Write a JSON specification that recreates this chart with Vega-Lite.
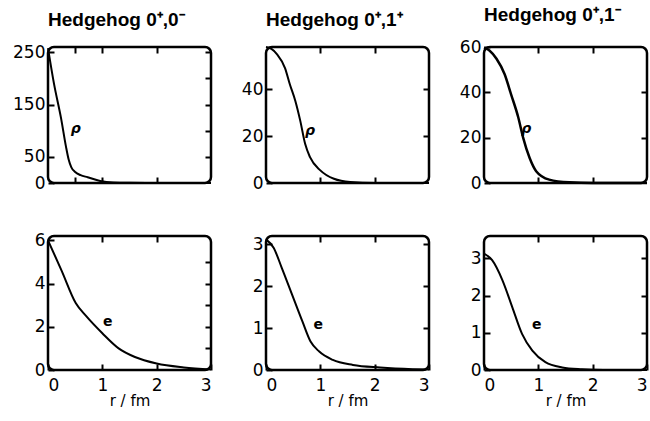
{
  "$schema": "https://vega.github.io/schema/vega-lite/v6.json",
  "padding": {"left": 11, "top": 4, "right": 5, "bottom": 5},
  "background": "white",
  "datasets": {
    "curves": [
      {"p": "a", "r": 0, "v": 258}, {"p": "a", "r": 0.11, "v": 190}, {"p": "a", "r": 0.24, "v": 124}, {"p": "a", "r": 0.33, "v": 70}, {"p": "a", "r": 0.38, "v": 45}, {"p": "a", "r": 0.43, "v": 30}, {"p": "a", "r": 0.5, "v": 21}, {"p": "a", "r": 0.6, "v": 15}, {"p": "a", "r": 0.73, "v": 11}, {"p": "a", "r": 0.96, "v": 4}, {"p": "a", "r": 1.2, "v": 1}, {"p": "a", "r": 1.5, "v": 0.3}, {"p": "a", "r": 2, "v": 0}, {"p": "a", "r": 3, "v": 0},
      {"p": "b", "r": 0, "v": 58}, {"p": "b", "r": 0.1, "v": 57.2}, {"p": "b", "r": 0.2, "v": 55}, {"p": "b", "r": 0.35, "v": 49}, {"p": "b", "r": 0.44, "v": 42}, {"p": "b", "r": 0.54, "v": 35}, {"p": "b", "r": 0.63, "v": 26.6}, {"p": "b", "r": 0.72, "v": 16.7}, {"p": "b", "r": 0.81, "v": 11}, {"p": "b", "r": 1.0, "v": 5.4}, {"p": "b", "r": 1.25, "v": 1.8}, {"p": "b", "r": 1.55, "v": 0.4}, {"p": "b", "r": 2, "v": 0}, {"p": "b", "r": 3, "v": 0},
      {"p": "c", "r": 0, "v": 59.7}, {"p": "c", "r": 0.1, "v": 58.5}, {"p": "c", "r": 0.23, "v": 54.8}, {"p": "c", "r": 0.38, "v": 48}, {"p": "c", "r": 0.5, "v": 39}, {"p": "c", "r": 0.63, "v": 29}, {"p": "c", "r": 0.72, "v": 20}, {"p": "c", "r": 0.84, "v": 11}, {"p": "c", "r": 0.96, "v": 5.2}, {"p": "c", "r": 1.2, "v": 1.5}, {"p": "c", "r": 1.57, "v": 0.3}, {"p": "c", "r": 2, "v": 0}, {"p": "c", "r": 3, "v": 0},
      {"p": "d", "r": 0, "v": 6.0}, {"p": "d", "r": 0.25, "v": 4.6}, {"p": "d", "r": 0.51, "v": 3.1}, {"p": "d", "r": 0.7, "v": 2.5}, {"p": "d", "r": 1.0, "v": 1.7}, {"p": "d", "r": 1.3, "v": 1.0}, {"p": "d", "r": 1.6, "v": 0.6}, {"p": "d", "r": 2.0, "v": 0.3}, {"p": "d", "r": 2.5, "v": 0.12}, {"p": "d", "r": 3, "v": 0.02},
      {"p": "e", "r": 0, "v": 3.12}, {"p": "e", "r": 0.14, "v": 2.92}, {"p": "e", "r": 0.29, "v": 2.44}, {"p": "e", "r": 0.48, "v": 1.8}, {"p": "e", "r": 0.67, "v": 1.16}, {"p": "e", "r": 0.82, "v": 0.68}, {"p": "e", "r": 0.98, "v": 0.44}, {"p": "e", "r": 1.23, "v": 0.24}, {"p": "e", "r": 1.6, "v": 0.12}, {"p": "e", "r": 2.1, "v": 0.06}, {"p": "e", "r": 2.7, "v": 0.02}, {"p": "e", "r": 3, "v": 0.01},
      {"p": "f", "r": 0, "v": 3.13}, {"p": "f", "r": 0.15, "v": 2.95}, {"p": "f", "r": 0.34, "v": 2.41}, {"p": "f", "r": 0.52, "v": 1.69}, {"p": "f", "r": 0.7, "v": 0.97}, {"p": "f", "r": 0.89, "v": 0.52}, {"p": "f", "r": 1.13, "v": 0.21}, {"p": "f", "r": 1.44, "v": 0.07}, {"p": "f", "r": 1.8, "v": 0.02}, {"p": "f", "r": 2.2, "v": 0}, {"p": "f", "r": 3, "v": 0}
    ],
    "labels": [
      {"p": "a", "r": 0.51, "v": 103, "t": "ρ"},
      {"p": "b", "r": 0.81, "v": 22, "t": "ρ"},
      {"p": "c", "r": 0.78, "v": 23.7, "t": "ρ"},
      {"p": "d", "r": 1.1, "v": 2.2, "t": "e"},
      {"p": "e", "r": 0.96, "v": 1.08, "t": "e"},
      {"p": "f", "r": 0.97, "v": 1.22, "t": "e"}
    ]
  },
  "config": {
    "view": {"stroke": "black", "strokeWidth": 2.5, "cornerRadius": 6},
    "font": "DejaVu Sans",
    "axis": {
      "domain": false, "grid": false, "tickColor": "black", "tickWidth": 2, "tickSize": -6,
      "labelColor": "black", "labelFont": "DejaVu Sans", "labelFontSize": 17, "labelPadding": 9,
      "titleColor": "black", "titleFont": "DejaVu Sans", "titleFontSize": 15, "titleFontWeight": "normal"
    },
    "title": {"font": "Liberation Sans", "fontSize": 19, "fontWeight": "bold", "color": "black", "anchor": "start", "frame": "group", "offset": 13},
    "concat": {"spacing": 55}
  },
  "columns": 3,
  "bounds": "flush",
  "spacing": {"column": 55, "row": 53},
  "concat": [
    {
      "width": 163, "height": 136, "title": "Hedgehog 0⁺,0⁻",
      "layer": [
        {"data": {"name": "curves"}, "transform": [{"filter": "datum.p === 'a'"}],
         "mark": {"type": "line", "color": "black", "strokeWidth": 2, "interpolate": "monotone"},
         "encoding": {
           "x": {"field": "r", "type": "quantitative", "scale": {"domain": [0, 3], "nice": false}, "axis": {"orient": "bottom", "labels": false, "title": null, "values": [0.5, 1, 2]}},
           "y": {"field": "v", "type": "quantitative", "scale": {"domain": [0, 260], "nice": false}, "axis": {"orient": "left", "title": null, "values": [0, 50, 150, 250]}}
         }},
        {"data": {"name": "labels"}, "transform": [{"filter": "datum.p === 'a'"}],
         "mark": {"type": "text", "fontSize": 14, "fontWeight": "bold", "fontStyle": "italic", "color": "black"},
         "encoding": {
           "x": {"field": "r", "type": "quantitative", "scale": {"domain": [0, 3], "nice": false}, "axis": {"orient": "top", "labels": false, "title": null, "values": [0.5, 1, 2]}},
           "y": {"field": "v", "type": "quantitative", "scale": {"domain": [0, 260], "nice": false}, "axis": {"orient": "right", "labels": false, "title": null, "values": [50, 100, 150, 200, 250]}},
           "text": {"field": "t"}
         }}
      ],
      "resolve": {"axis": {"x": "independent", "y": "independent"}}
    },
    {
      "width": 163, "height": 136, "title": "Hedgehog 0⁺,1⁺",
      "layer": [
        {"data": {"name": "curves"}, "transform": [{"filter": "datum.p === 'b'"}],
         "mark": {"type": "line", "color": "black", "strokeWidth": 2, "interpolate": "monotone"},
         "encoding": {
           "x": {"field": "r", "type": "quantitative", "scale": {"domain": [0, 3], "nice": false}, "axis": {"orient": "bottom", "labels": false, "title": null, "values": [1, 2]}},
           "y": {"field": "v", "type": "quantitative", "scale": {"domain": [0, 58], "nice": false}, "axis": {"orient": "left", "title": null, "values": [0, 20, 40]}}
         }},
        {"data": {"name": "labels"}, "transform": [{"filter": "datum.p === 'b'"}],
         "mark": {"type": "text", "fontSize": 14, "fontWeight": "bold", "fontStyle": "italic", "color": "black"},
         "encoding": {
           "x": {"field": "r", "type": "quantitative", "scale": {"domain": [0, 3], "nice": false}, "axis": {"orient": "top", "labels": false, "title": null, "values": [1, 2]}},
           "y": {"field": "v", "type": "quantitative", "scale": {"domain": [0, 58], "nice": false}, "axis": {"orient": "right", "labels": false, "title": null, "values": [20, 40]}},
           "text": {"field": "t"}
         }}
      ],
      "resolve": {"axis": {"x": "independent", "y": "independent"}}
    },
    {
      "width": 163, "height": 136, "title": "Hedgehog 0⁺,1⁻",
      "layer": [
        {"data": {"name": "curves"}, "transform": [{"filter": "datum.p === 'c'"}],
         "mark": {"type": "line", "color": "black", "strokeWidth": 2.5, "interpolate": "monotone"},
         "encoding": {
           "x": {"field": "r", "type": "quantitative", "scale": {"domain": [0, 3], "nice": false}, "axis": {"orient": "bottom", "labels": false, "title": null, "values": [1, 2]}},
           "y": {"field": "v", "type": "quantitative", "scale": {"domain": [0, 60], "nice": false}, "axis": {"orient": "left", "title": null, "values": [0, 20, 40, 60]}}
         }},
        {"data": {"name": "labels"}, "transform": [{"filter": "datum.p === 'c'"}],
         "mark": {"type": "text", "fontSize": 14, "fontWeight": "bold", "fontStyle": "italic", "color": "black"},
         "encoding": {
           "x": {"field": "r", "type": "quantitative", "scale": {"domain": [0, 3], "nice": false}, "axis": {"orient": "top", "labels": false, "title": null, "values": [1, 2]}},
           "y": {"field": "v", "type": "quantitative", "scale": {"domain": [0, 60], "nice": false}, "axis": {"orient": "right", "labels": false, "title": null, "values": [20, 40]}},
           "text": {"field": "t"}
         }}
      ],
      "resolve": {"axis": {"x": "independent", "y": "independent"}}
    },
    {
      "width": 163, "height": 134,
      "layer": [
        {"data": {"name": "curves"}, "transform": [{"filter": "datum.p === 'd'"}],
         "mark": {"type": "line", "color": "black", "strokeWidth": 2, "interpolate": "monotone"},
         "encoding": {
           "x": {"field": "r", "type": "quantitative", "scale": {"domain": [0, 3], "nice": false}, "axis": {"orient": "bottom", "title": "r / fm", "values": [0, 1, 2, 3], "labelPadding": 13, "titlePadding": 0}},
           "y": {"field": "v", "type": "quantitative", "scale": {"domain": [0, 6.2], "nice": false}, "axis": {"orient": "left", "title": null, "values": [0, 2, 4, 6]}}
         }},
        {"data": {"name": "labels"}, "transform": [{"filter": "datum.p === 'd'"}],
         "mark": {"type": "text", "fontSize": 14, "fontWeight": "bold", "color": "black"},
         "encoding": {
           "x": {"field": "r", "type": "quantitative", "scale": {"domain": [0, 3], "nice": false}, "axis": {"orient": "top", "labels": false, "title": null, "values": [1, 2]}},
           "y": {"field": "v", "type": "quantitative", "scale": {"domain": [0, 6.2], "nice": false}, "axis": {"orient": "right", "labels": false, "title": null, "values": [1, 2, 3, 4, 5]}},
           "text": {"field": "t"}
         }}
      ],
      "resolve": {"axis": {"x": "independent", "y": "independent"}}
    },
    {
      "width": 163, "height": 134,
      "layer": [
        {"data": {"name": "curves"}, "transform": [{"filter": "datum.p === 'e'"}],
         "mark": {"type": "line", "color": "black", "strokeWidth": 2, "interpolate": "monotone"},
         "encoding": {
           "x": {"field": "r", "type": "quantitative", "scale": {"domain": [0, 3], "nice": false}, "axis": {"orient": "bottom", "title": "r / fm", "values": [0, 1, 2, 3], "labelPadding": 13, "titlePadding": 0}},
           "y": {"field": "v", "type": "quantitative", "scale": {"domain": [0, 3.2], "nice": false}, "axis": {"orient": "left", "title": null, "values": [0, 1, 2, 3]}}
         }},
        {"data": {"name": "labels"}, "transform": [{"filter": "datum.p === 'e'"}],
         "mark": {"type": "text", "fontSize": 14, "fontWeight": "bold", "color": "black"},
         "encoding": {
           "x": {"field": "r", "type": "quantitative", "scale": {"domain": [0, 3], "nice": false}, "axis": {"orient": "top", "labels": false, "title": null, "values": [1, 2]}},
           "y": {"field": "v", "type": "quantitative", "scale": {"domain": [0, 3.2], "nice": false}, "axis": {"orient": "right", "labels": false, "title": null, "values": [1, 2, 3]}},
           "text": {"field": "t"}
         }}
      ],
      "resolve": {"axis": {"x": "independent", "y": "independent"}}
    },
    {
      "width": 163, "height": 134,
      "layer": [
        {"data": {"name": "curves"}, "transform": [{"filter": "datum.p === 'f'"}],
         "mark": {"type": "line", "color": "black", "strokeWidth": 2, "interpolate": "monotone"},
         "encoding": {
           "x": {"field": "r", "type": "quantitative", "scale": {"domain": [0, 3], "nice": false}, "axis": {"orient": "bottom", "title": "r / fm", "values": [0, 1, 2, 3], "labelPadding": 13, "titlePadding": 0}},
           "y": {"field": "v", "type": "quantitative", "scale": {"domain": [0, 3.6], "nice": false}, "axis": {"orient": "left", "title": null, "values": [0, 1, 2, 3]}}
         }},
        {"data": {"name": "labels"}, "transform": [{"filter": "datum.p === 'f'"}],
         "mark": {"type": "text", "fontSize": 14, "fontWeight": "bold", "color": "black"},
         "encoding": {
           "x": {"field": "r", "type": "quantitative", "scale": {"domain": [0, 3], "nice": false}, "axis": {"orient": "top", "labels": false, "title": null, "values": [1, 2]}},
           "y": {"field": "v", "type": "quantitative", "scale": {"domain": [0, 3.6], "nice": false}, "axis": {"orient": "right", "labels": false, "title": null, "values": [1, 2, 3]}},
           "text": {"field": "t"}
         }}
      ],
      "resolve": {"axis": {"x": "independent", "y": "independent"}}
    }
  ]
}
